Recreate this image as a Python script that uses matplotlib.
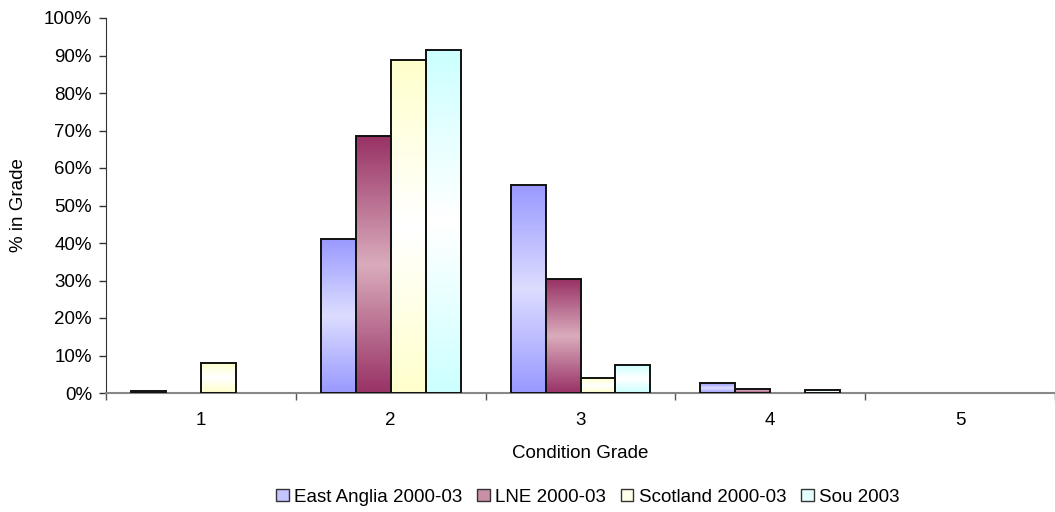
import numpy as np
import matplotlib
matplotlib.use("Agg")
import matplotlib.pyplot as plt
from matplotlib.colors import LinearSegmentedColormap
from matplotlib.patches import Patch
from matplotlib.ticker import FixedLocator, PercentFormatter

plt.rcParams['font.family'] = ['Liberation Sans', 'DejaVu Sans']

grades = ["1", "2", "3", "4", "5"]
series_names = ["East Anglia 2000-03", "LNE 2000-03", "Scotland 2000-03", "Sou 2003"]
east_anglia = [0.5, 41.2, 55.5, 2.6, 0.0]
lne = [0.0, 68.5, 30.3, 1.1, 0.0]
scotland = [8.1, 88.8, 3.9, 0.0, 0.0]
sou = [0.0, 91.4, 7.6, 0.7, 0.0]
series_values = [east_anglia, lne, scotland, sou]

# gradient stops: (edge colour at top/bottom, colour at the middle)
edge_colors = ["#9999FF", "#993366", "#FFFFCC", "#CCFFFF"]
mid_colors = ["#DCDCFF", "#D9AABB", "#FFFFFF", "#FFFFFF"]
legend_colors = ["#C4C4FF", "#C98FA6", "#FFFFEA", "#E4FFFF"]

FS = 13.5

fig = plt.figure(figsize=(10.55, 5.12), dpi=100)
ax = fig.add_axes([106 / 1055, 119 / 512, 949 / 1055, 375 / 512])

n = len(series_names)
bar_w = 0.184
x = np.arange(len(grades))
offsets = (np.arange(n) - (n - 1) / 2) * bar_w

grad = np.concatenate([np.linspace(0, 1, 50), np.linspace(1, 0, 50)]).reshape(-1, 1)

for i, (vals, c0, c1) in enumerate(zip(series_values, edge_colors, mid_colors)):
    cmap = LinearSegmentedColormap.from_list(f"g{i}", [c0, c1])
    bars = ax.bar(x + offsets[i], vals, width=bar_w, facecolor="none",
                  edgecolor="#111111", linewidth=1.4, zorder=3)
    for b, v in zip(bars, vals):
        if v <= 0:
            b.set_visible(False)
            continue
        x0 = b.get_x()
        im = ax.imshow(grad, cmap=cmap, aspect="auto",
                       extent=(x0, x0 + b.get_width(), 0, v),
                       interpolation="bilinear", zorder=2, vmin=0, vmax=1)
        im.set_clip_path(b)

ax.set_xlim(-0.5, len(grades) - 0.5)
ax.set_ylim(0, 100)

ax.yaxis.set_major_locator(FixedLocator(np.arange(0, 101, 10)))
ax.yaxis.set_major_formatter(PercentFormatter(decimals=0))
ax.set_xticks(x)
ax.set_xticklabels(grades)
ax.xaxis.set_minor_locator(FixedLocator(np.arange(-0.5, len(grades), 1.0)))

ax.tick_params(axis="x", which="major", length=0, pad=14, labelsize=FS)
ax.tick_params(axis="x", which="minor", length=5, width=1, color="#555555", direction="out")
ax.tick_params(axis="y", which="major", length=5, width=1, color="#333333",
               labelsize=FS, pad=5)

for side in ("top", "right"):
    ax.spines[side].set_visible(False)
ax.spines["left"].set_color("#333333")
ax.spines["bottom"].set_color("#888888")
ax.spines["bottom"].set_linewidth(1.5)

ax.set_xlabel("Condition Grade", fontsize=FS, labelpad=11)
ax.set_ylabel("% in Grade", fontsize=FS, labelpad=12)

handles = [Patch(facecolor=c, edgecolor="#333333", linewidth=1.0) for c in legend_colors]
fig.legend(handles, series_names, loc="center", bbox_to_anchor=(588 / 1055, 1 - 497 / 512),
           ncol=4, frameon=False, fontsize=FS, handlelength=0.65, handleheight=0.65,
           handletextpad=0.3, columnspacing=0.8)

fig.savefig("out.png", dpi=100)
